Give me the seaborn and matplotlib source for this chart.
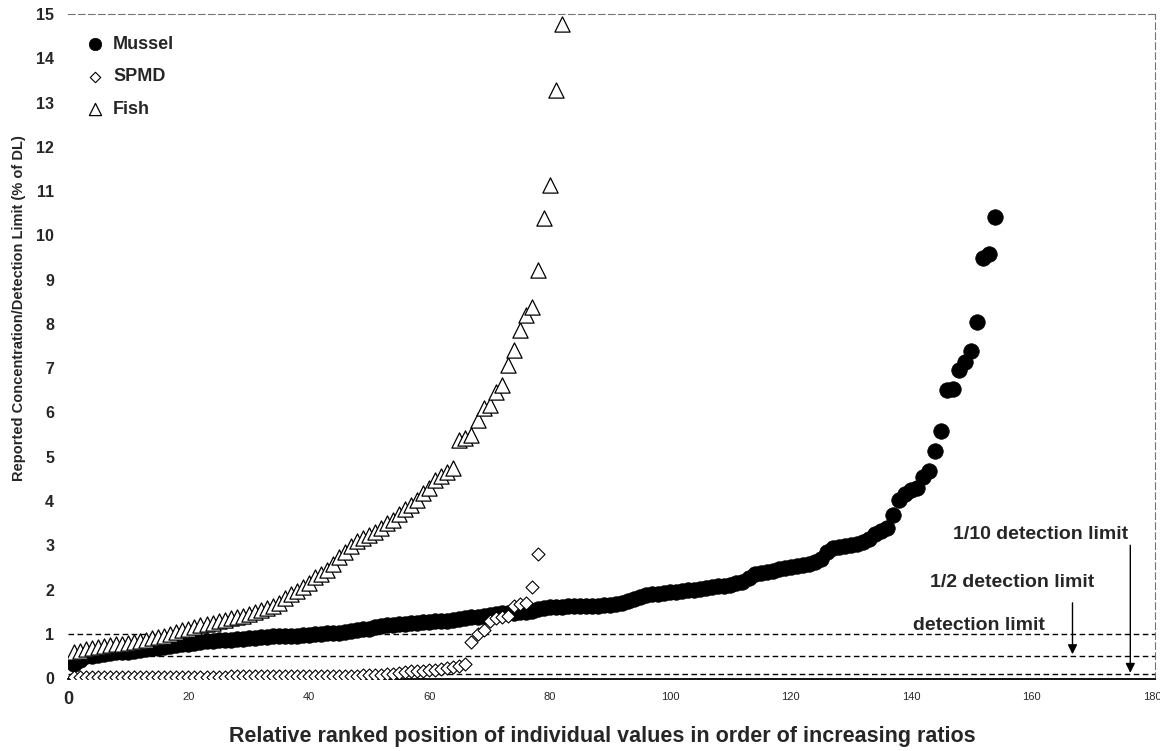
import numpy as np
import pandas as pd
import matplotlib
matplotlib.use("Agg")
import matplotlib.pyplot as plt
import seaborn as sns

# ---------------- data ----------------
series_names = ["Mussel", "SPMD", "Fish"]

mussel = [0.33, 0.42, 0.50, 0.51, 0.53, 0.55, 0.57, 0.58, 0.59, 0.60,
          0.61, 0.63, 0.65, 0.67, 0.69, 0.71, 0.73, 0.75, 0.76, 0.78,
          0.80, 0.82, 0.83, 0.84, 0.85, 0.86, 0.87, 0.88, 0.89, 0.90,
          0.91, 0.92, 0.93, 0.94, 0.95, 0.95, 0.96, 0.96, 0.97, 0.98,
          0.99, 1.00, 1.01, 1.02, 1.03, 1.04, 1.06, 1.08, 1.10, 1.12,
          1.15, 1.18, 1.20, 1.21, 1.22, 1.23, 1.24, 1.25, 1.26, 1.27,
          1.28, 1.29, 1.30, 1.32, 1.34, 1.35, 1.37, 1.39, 1.41, 1.43,
          1.45, 1.46, 1.47, 1.48, 1.49, 1.50, 1.52, 1.55, 1.58, 1.60,
          1.61, 1.61, 1.62, 1.62, 1.63, 1.63, 1.64, 1.64, 1.65, 1.65,
          1.67, 1.70, 1.74, 1.79, 1.84, 1.87, 1.89, 1.90, 1.92, 1.94,
          1.95, 1.96, 1.98, 1.99, 2.01, 2.03, 2.05, 2.07, 2.09, 2.11,
          2.14, 2.17, 2.25, 2.35, 2.38, 2.40, 2.43, 2.46, 2.49, 2.52,
          2.54, 2.56, 2.58, 2.62, 2.70, 2.85, 2.95, 2.97, 2.98, 3.00,
          3.02, 3.08, 3.15, 3.25, 3.33, 3.40, 3.68, 4.02, 4.15, 4.25,
          4.30, 4.55, 4.68, 5.13, 5.59, 6.50, 6.52, 6.96, 7.14, 7.39,
          8.05, 9.50, 9.59, 10.42]

spmd = [0.02, 0.02, 0.02, 0.02, 0.03, 0.03, 0.03, 0.03, 0.03, 0.03,
        0.03, 0.03, 0.03, 0.03, 0.03, 0.03, 0.03, 0.03, 0.03, 0.03,
        0.03, 0.03, 0.03, 0.03, 0.03, 0.03, 0.04, 0.04, 0.04, 0.04,
        0.04, 0.04, 0.04, 0.04, 0.04, 0.04, 0.04, 0.04, 0.04, 0.04,
        0.04, 0.04, 0.04, 0.05, 0.05, 0.05, 0.05, 0.05, 0.06, 0.06,
        0.07, 0.08, 0.09, 0.10, 0.12, 0.13, 0.15, 0.16, 0.17, 0.18,
        0.19, 0.20, 0.22, 0.25, 0.27, 0.31,
        0.82, 1.00, 1.08, 1.30, 1.35, 1.38, 1.40, 1.63, 1.67, 1.69,
        2.06, 2.80]

fish = [0.58, 0.62, 0.65, 0.68, 0.70, 0.72, 0.74, 0.76, 0.78, 0.80,
        0.82, 0.84, 0.87, 0.90, 0.93, 0.96, 1.00, 1.04, 1.08, 1.12,
        1.16, 1.19, 1.22, 1.25, 1.28, 1.31, 1.35, 1.38, 1.41, 1.45,
        1.49, 1.53, 1.58, 1.63, 1.69, 1.80, 1.91, 1.97, 2.05, 2.15,
        2.29, 2.36, 2.45, 2.58, 2.74, 2.85, 2.98, 3.10, 3.17, 3.24,
        3.30, 3.40, 3.50, 3.57, 3.70, 3.82, 3.91, 4.02, 4.17, 4.30,
        4.47, 4.57, 4.65,
        4.74, 5.38, 5.42, 5.49, 5.83, 6.09, 6.17, 6.47, 6.62, 7.07,
        7.41, 7.86, 8.20, 8.39, 9.22, 10.39, 11.14, 13.28, 14.77]

x_ticks = [0, 20, 40, 60, 80, 100, 120, 140, 160, 180]
y_ticks = list(range(0, 16))
limit_levels = [1.0, 0.5, 0.1]
limit_labels = ["detection limit", "1/2 detection limit", "1/10 detection limit"]

x_label = "Relative ranked position of individual values in order of increasing ratios"
y_label = "Reported Concentration/Detection Limit (% of DL)"

# ---------------- build table ----------------
values = {"Mussel": mussel, "SPMD": spmd, "Fish": fish}
df = pd.concat([pd.DataFrame({"rank": np.arange(1, len(v) + 1),
                              "ratio": v, "series": n})
                for n, v in values.items()], ignore_index=True)

# ---------------- style ----------------
sns.set_style("white")
plt.rcParams["font.family"] = ["Liberation Sans", "DejaVu Sans"]

W, H = 1160, 751
fig = plt.figure(figsize=(W / 100, H / 100), dpi=100)
ax = fig.add_axes([68 / W, 1 - 679 / H, (1155 - 68) / W, (679 - 14) / H])

styles = {
    "Mussel": dict(marker="o", s=125, color="black", edgecolor="black", linewidth=0.5),
    "SPMD": dict(marker="D", s=44, color="white", edgecolor="black", linewidth=0.8),
    "Fish": dict(marker="^", s=120, color="white", edgecolor="black", linewidth=0.9),
}
for name in series_names:
    sub = df[df["series"] == name]
    sns.scatterplot(data=sub, x="rank", y="ratio", ax=ax, label=name,
                    zorder=3, **styles[name])

# detection limit lines
for lv in limit_levels:
    ax.axhline(lv, color="black", lw=1.0, ls=(0, (4, 2.5)), zorder=2)

# annotations
txt_kw = dict(fontsize=14, fontweight="bold", ha="center", va="center")
ax.text(151.2, 1.19, limit_labels[0], **txt_kw)
ax.text(156.8, 2.15, limit_labels[1], **txt_kw)
ax.text(161.5, 3.25, limit_labels[2], **txt_kw)
ax.annotate("", xy=(166.8, limit_levels[1] + 0.04), xytext=(166.8, 1.70),
            arrowprops=dict(arrowstyle="-|>", color="black", lw=1.0,
                            mutation_scale=14, shrinkA=0, shrinkB=0))
ax.annotate("", xy=(176.4, limit_levels[2] + 0.02), xytext=(176.4, 3.0),
            arrowprops=dict(arrowstyle="-|>", color="black", lw=1.0,
                            mutation_scale=14, shrinkA=0, shrinkB=0))

# axes
ax.set_xlim(0, 180.5)
ax.set_ylim(-0.02, 15)
ax.set_xticks(x_ticks)
ax.set_xticklabels([str(t) for t in x_ticks])
ax.set_yticks(y_ticks)
ax.set_yticklabels([str(t) for t in y_ticks])
ax.tick_params(axis="x", length=0, pad=9, labelsize=8)
ax.tick_params(axis="y", length=2, width=0.8, color="0.5", pad=8, labelsize=11.5)
for lab in ax.get_yticklabels():
    lab.set_fontweight("bold")
first = ax.get_xticklabels()[0]
first.set_fontsize(13)
first.set_fontweight("bold")

ax.set_xlabel(x_label, fontsize=15.5, fontweight="bold")
ax.xaxis.set_label_coords(0.492, -0.087)
ax.xaxis.label.set_va("center")
ax.set_ylabel(y_label, fontsize=10.5, fontweight="bold")
ax.yaxis.set_label_coords(-0.045, 0.558)
ax.yaxis.label.set_va("center")

ax.spines["left"].set_visible(False)
ax.spines["bottom"].set_color("black")
ax.spines["bottom"].set_linewidth(1.3)
for side in ("top", "right"):
    ax.spines[side].set_color("0.45")
    ax.spines[side].set_linewidth(0.8)
    ax.spines[side].set_linestyle((0, (6, 3)))

leg = ax.legend(loc="upper left", bbox_to_anchor=(0.0166, 0.967), frameon=False,
                prop=dict(weight="bold", size=13), handletextpad=0.5,
                labelspacing=0.85, markerscale=0.8, handlelength=1.0,
                borderaxespad=0, borderpad=0)

fig.savefig("out.png", dpi=100, facecolor="white")
